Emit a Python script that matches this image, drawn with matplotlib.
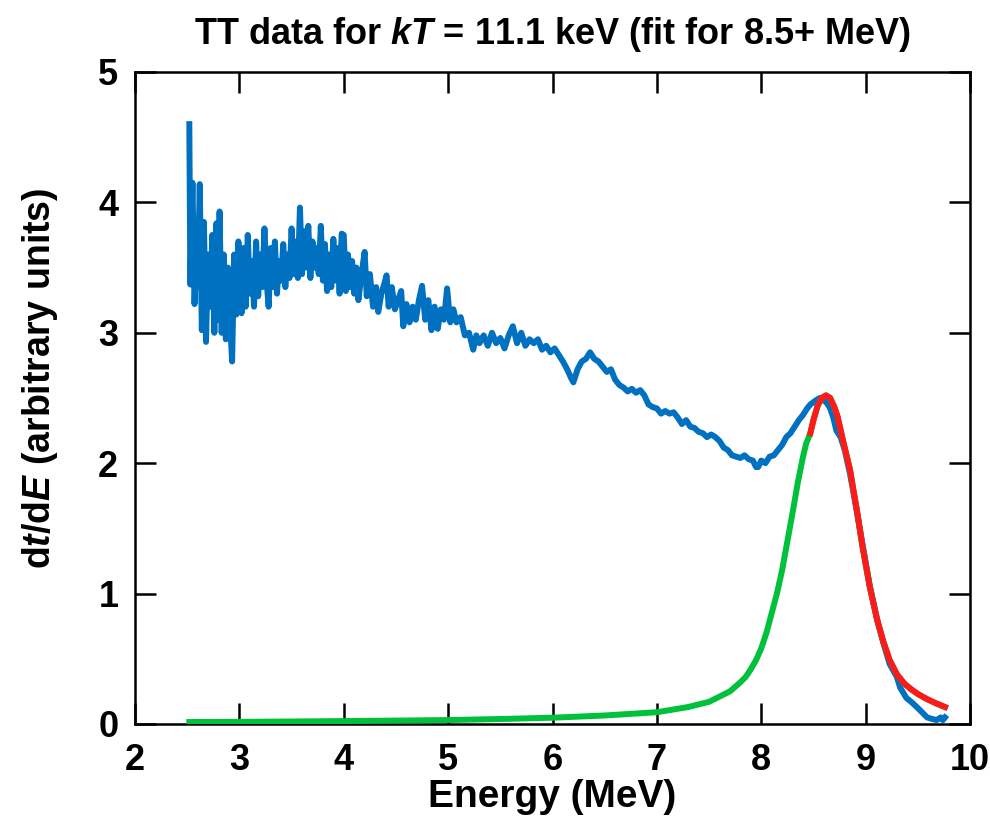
import matplotlib
matplotlib.use("Agg")
import matplotlib.pyplot as plt

E_DATA = [2.52, 2.53, 2.55, 2.57, 2.59, 2.60, 2.62, 2.64, 2.66, 2.68, 2.70, 2.72, 2.74, 2.76,
          2.78, 2.80, 2.81, 2.83, 2.85, 2.87, 2.89, 2.91, 2.93, 2.95, 2.97, 2.99,
          3.00, 3.02, 3.04, 3.06, 3.08, 3.10, 3.12, 3.14, 3.16, 3.18, 3.20, 3.22, 3.24, 3.26,
          3.28, 3.30, 3.32, 3.34, 3.36, 3.38, 3.40, 3.42, 3.44, 3.46, 3.48, 3.50, 3.52, 3.54,
          3.56, 3.58, 3.60, 3.62, 3.64, 3.66, 3.68, 3.70, 3.72, 3.74, 3.76, 3.78, 3.80, 3.82,
          3.84, 3.86, 3.88, 3.90, 3.92, 3.94, 3.96, 3.98,
          4.00, 4.02, 4.04, 4.06, 4.08, 4.10, 4.12, 4.14, 4.17, 4.20, 4.22, 4.25, 4.28, 4.31,
          4.33, 4.36, 4.39, 4.41, 4.43, 4.46, 4.49, 4.52, 4.55, 4.57, 4.60, 4.63, 4.66, 4.69,
          4.72, 4.75, 4.78, 4.81, 4.84, 4.87, 4.90, 4.93, 4.96, 4.99, 5.02, 5.05, 5.08, 5.12,
          5.16, 5.20, 5.24, 5.27, 5.30, 5.34, 5.38, 5.42, 5.46, 5.50, 5.54, 5.58,
          5.62, 5.66, 5.70, 5.74, 5.78, 5.82, 5.86, 5.90, 5.94, 5.98, 6.02, 6.06, 6.10, 6.14,
          6.18, 6.20, 6.24, 6.28, 6.32, 6.36, 6.40, 6.44, 6.48, 6.52, 6.56, 6.60, 6.64, 6.68,
          6.72, 6.76, 6.80, 6.84, 6.88, 6.92, 6.96, 7.00, 7.04, 7.08, 7.12, 7.16,
          7.20, 7.24, 7.28, 7.32, 7.36, 7.40, 7.44, 7.48, 7.52, 7.56, 7.60, 7.64, 7.68, 7.72,
          7.76, 7.80, 7.84, 7.88, 7.92, 7.95,
          7.97, 8.00, 8.04, 8.08, 8.12, 8.16, 8.20, 8.24, 8.28, 8.32, 8.36, 8.40, 8.44,
          8.47, 8.52, 8.56, 8.59, 8.63, 8.66, 8.69, 8.72, 8.76, 8.80, 8.85, 8.90, 8.97, 9.04,
          9.11, 9.17, 9.23, 9.30, 9.33, 9.39, 9.45, 9.49, 9.54, 9.59, 9.63, 9.68, 9.72, 9.74, 9.76]
Y_DATA = [4.60, 3.37, 4.15, 3.22, 3.70, 3.35, 4.14, 3.02, 3.85, 2.93, 3.60, 3.20, 3.75, 3.00,
          3.84, 3.10, 3.93, 3.00, 3.60, 2.95, 3.50, 3.10, 2.78, 3.60, 3.14, 3.70,
          3.58, 3.15, 3.65, 3.20, 3.75, 3.30, 3.55, 3.20, 3.70, 3.28, 3.60, 3.35, 3.80, 3.40,
          3.20, 3.65, 3.35, 3.70, 3.30, 3.55, 3.40, 3.68, 3.35, 3.60, 3.42, 3.80, 3.45, 3.70,
          3.42, 3.96, 3.45, 3.78, 3.50, 3.82, 3.42, 3.70, 3.50, 3.65, 3.45, 3.82, 3.40, 3.68,
          3.32, 3.60, 3.35, 3.72, 3.40, 3.65, 3.30, 3.76,
          3.75, 3.32, 3.60, 3.35, 3.55, 3.30, 3.50, 3.25, 3.45, 3.62, 3.28, 3.45, 3.20, 3.35,
          3.16, 3.30, 3.38, 3.44, 3.20, 3.35, 3.18, 3.25, 3.32, 3.05, 3.22, 3.08, 3.20, 3.10,
          3.25, 3.36, 3.10, 3.25, 3.02, 3.20, 3.03, 3.18, 3.10, 3.34, 3.08, 3.18, 3.08, 3.12,
          2.98, 3.00, 2.87, 2.98, 2.92, 2.98, 2.90, 3.00, 2.92, 2.96, 2.88, 2.98,
          3.05, 2.92, 3.00, 2.90, 2.95, 2.92, 2.95, 2.87, 2.90, 2.85, 2.88, 2.83, 2.78, 2.72,
          2.65, 2.62, 2.72, 2.78, 2.80, 2.85, 2.80, 2.78, 2.74, 2.70, 2.72, 2.64, 2.60, 2.58,
          2.55, 2.57, 2.54, 2.56, 2.52, 2.45, 2.43, 2.42, 2.38, 2.40, 2.38, 2.39,
          2.35, 2.30, 2.33, 2.28, 2.27, 2.24, 2.23, 2.20, 2.22, 2.20, 2.17, 2.12, 2.10, 2.06,
          2.05, 2.04, 2.06, 2.03, 2.02, 1.97,
          1.97, 2.02, 2.00, 2.05, 2.06, 2.10, 2.14, 2.20, 2.23, 2.28, 2.33, 2.37, 2.42,
          2.45, 2.48, 2.50, 2.49, 2.46, 2.42, 2.35, 2.25, 2.20, 2.10, 1.92, 1.70, 1.38, 1.06,
          0.80, 0.62, 0.46, 0.36, 0.28, 0.20, 0.16, 0.13, 0.09, 0.05, 0.04, 0.03, 0.05, 0.03, 0.05]

# full fitted peak (green)
E_FIT = [2.52, 3.0, 4.0, 5.0, 5.5, 6.0, 6.5, 7.0, 7.3, 7.5, 7.7, 7.8, 7.85, 7.9, 7.95, 8.0,
         8.05, 8.1, 8.15, 8.2, 8.25, 8.3, 8.35, 8.4, 8.43, 8.47, 8.50, 8.54, 8.58, 8.62, 8.66,
         8.70, 8.73, 8.79, 8.85, 8.92, 8.97, 9.04, 9.11, 9.17, 9.23, 9.30, 9.37, 9.43, 9.50,
         9.59, 9.67, 9.76]
Y_FIT = [0.015, 0.016, 0.022, 0.030, 0.038, 0.048, 0.065, 0.09, 0.13, 0.17, 0.25, 0.32,
         0.36, 0.42, 0.49, 0.58, 0.70, 0.85, 1.00, 1.18, 1.40, 1.62, 1.85, 2.05, 2.15, 2.23,
         2.33, 2.44, 2.50, 2.52, 2.50, 2.43, 2.36, 2.15, 1.95, 1.62, 1.36, 1.05, 0.80, 0.63,
         0.49, 0.38, 0.31, 0.27, 0.23, 0.19, 0.16, 0.13]

# fit range (red) starts here
FIT_START = 8.47

BLUE = "#0070c0"
GREEN = "#00c03c"
RED = "#ff1a1a"

plt.rcParams["font.family"] = ["Liberation Sans", "DejaVu Sans"]
plt.rcParams["font.weight"] = "bold"
plt.rcParams["mathtext.fontset"] = "custom"
plt.rcParams["mathtext.rm"] = "Liberation Sans:bold"
plt.rcParams["mathtext.it"] = "Liberation Sans:bold:italic"
plt.rcParams["mathtext.bf"] = "Liberation Sans:bold"

fig = plt.figure(figsize=(9.9, 8.31), dpi=100)
ax = fig.add_axes([0.1364, 0.1288, 0.8434, 0.7846])

LW = 4.3
ax.plot(E_DATA, Y_DATA, color=BLUE, lw=LW, solid_joinstyle="round", zorder=2)
ax.plot(E_FIT, Y_FIT, color=GREEN, lw=LW, zorder=3)
red_E = [e for e in E_FIT if e >= FIT_START]
red_Y = [y for e, y in zip(E_FIT, Y_FIT) if e >= FIT_START]
ax.plot(red_E, red_Y, color=RED, lw=LW, zorder=4)

ax.set_xlim(2, 10)
ax.set_ylim(0, 5)
ax.set_xticks(range(2, 11))
ax.set_yticks(range(0, 6))
ax.tick_params(direction="in", length=15, width=1.8, top=True, right=True,
               labelsize=26, pad=12)
ax.tick_params(axis="x", pad=14)
for s in ax.spines.values():
    s.set_linewidth(1.8)

ax.set_xlabel("Energy (MeV)", fontsize=28, fontweight="bold")
ax.xaxis.set_label_coords(0.5, -0.085)
ax.set_ylabel("d$t$/d$E$ (arbitrary units)", fontsize=27, fontweight="bold")
ax.yaxis.set_label_coords(-0.09, 0.53)
ax.set_title("TT data for $kT$ = 11.1 keV (fit for 8.5+ MeV)", fontsize=26,
             fontweight="bold", pad=20)

fig.savefig("out.png", dpi=100)
